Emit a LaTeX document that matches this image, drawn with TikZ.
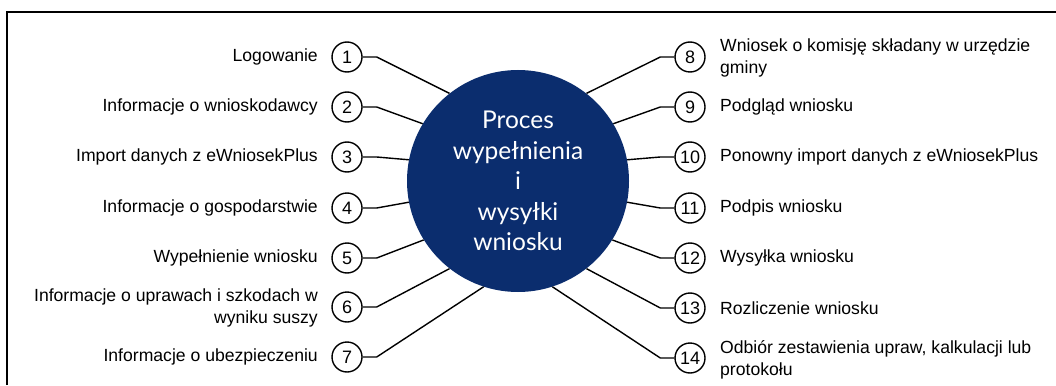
\documentclass[tikz,border=0pt]{standalone}
\usepackage{fontspec}
\setmainfont{Liberation Sans}
\newfontfamily\titlefont{Lato}
\definecolor{navy}{HTML}{0B2D6E}
\begin{document}
\begin{tikzpicture}[x=1pt,y=-1pt,
  num/.style={circle, draw, line width=1.4pt, minimum size=30pt, inner sep=0pt, font=\fontsize{18}{20}\selectfont},
  lab/.style={font=\fontsize{17.6}{22.5}\selectfont, inner sep=0pt},
  conn/.style={line width=1.4pt},
  hub/.style={circle, fill=navy, minimum size=222pt, inner sep=0pt, align=center, text=white, font=\titlefont\fontsize{24.5}{30.5}\selectfont}]
\useasboundingbox (0,0) rectangle (1056,385);
\draw[line width=1.8pt] (7,385) -- (7,12) -- (1056,12);
\node[hub] (c) at (518,181) {Proces\\wypełnienia\\i\\wysyłki\\wniosku};
% left
\node[num] (n1) at (347,57) {1};
\node[num] (n2) at (347,107) {2};
\node[num] (n3) at (347,157) {3};
\node[num] (n4) at (347,208) {4};
\node[num] (n5) at (347,258) {5};
\node[num] (n6) at (347,307) {6};
\node[num] (n7) at (347,357) {7};
\node[lab, anchor=east] (l1) at (318,57) {Logowanie};
\node[lab, anchor=east] (l2) at (318,107) {Informacje o wnioskodawcy};
\node[lab, anchor=east] (l3) at (318,157) {Import danych z eWniosekPlus};
\node[lab, anchor=east] (l4) at (318,208) {Informacje o gospodarstwie};
\node[lab, anchor=east] (l5) at (318,258) {Wypełnienie wniosku};
\node[lab, anchor=east, align=right] (l6) at (318,308) {Informacje o uprawach i szkodach w\\wyniku suszy};
\node[lab, anchor=east] (l7) at (318,357) {Informacje o ubezpieczeniu};
\draw[conn] (n1.east) -- ++(14,0) -- (c.128);
\draw[conn] (n2.east) -- ++(14,0) -- (c.149);
\draw[conn] (n3.east) -- ++(14,0) -- (c.169);
\draw[conn] (n4.east) -- ++(14,0) -- (c.191);
\draw[conn] (n5.east) -- ++(14,0) -- (c.212);
\draw[conn] (n6.east) -- ++(14,0) -- (c.232);
\draw[conn] (n7.east) -- ++(14,0) -- (c.252);
% right
\node[num] (n8) at (690,57) {8};
\node[num] (n9) at (690,107) {9};
\node[num] (n10) at (690,157) {10};
\node[num] (n11) at (690,208) {11};
\node[num] (n12) at (690,258) {12};
\node[num] (n13) at (690,308) {13};
\node[num] (n14) at (690,358) {14};
\node[lab, anchor=west, align=left] (r8) at (720,58) {Wniosek o komisję składany w urzędzie\\gminy};
\node[lab, anchor=west] (r9) at (720,107) {Podgląd wniosku};
\node[lab, anchor=west] (r10) at (720,157) {Ponowny import danych z eWniosekPlus};
\node[lab, anchor=west] (r11) at (720,208) {Podpis wniosku};
\node[lab, anchor=west] (r12) at (720,258) {Wysyłka wniosku};
\node[lab, anchor=west] (r13) at (720,308) {Rozliczenie wniosku};
\node[lab, anchor=west, align=left] (r14) at (720,360) {Odbiór zestawienia upraw, kalkulacji lub\\protokołu};
\draw[conn] (n8.west) -- ++(-14,0) -- (c.52);
\draw[conn] (n9.west) -- ++(-14,0) -- (c.31);
\draw[conn] (n10.west) -- ++(-14,0) -- (c.11);
\draw[conn] (n11.west) -- ++(-14,0) -- (c.-11);
\draw[conn] (n12.west) -- ++(-14,0) -- (c.-32);
\draw[conn] (n13.west) -- ++(-14,0) -- (c.-52);
\draw[conn] (n14.west) -- ++(-14,0) -- (c.-72);
\end{tikzpicture}
\end{document}
